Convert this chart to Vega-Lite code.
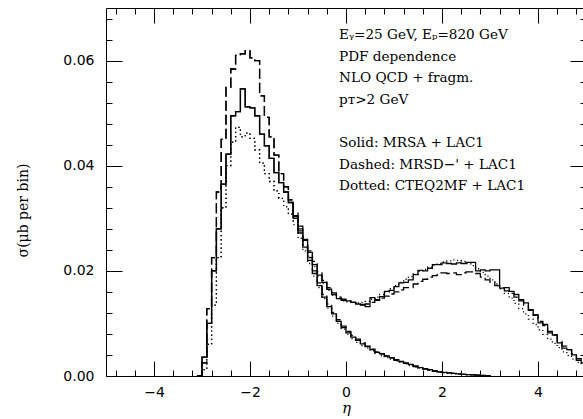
{
  "$schema": "https://vega.github.io/schema/vega-lite/v6.json",
  "width": 477,
  "height": 368,
  "autosize": {"type": "none"},
  "padding": {"left": 106, "top": 8, "right": 0, "bottom": 43},
  "background": "white",
  "config": {
    "view": {"stroke": null},
    "axis": {"grid": false, "domainColor": "black", "tickColor": "black", "labelColor": "black", "titleColor": "black", "domainWidth": 1, "tickWidth": 1, "labelFont": "DejaVu Sans", "labelFontSize": 14, "titleFont": "DejaVu Serif", "titleFontWeight": "normal"}
  },
  "datasets": {
    "h": [
      {"eta": -3.1, "sA": 0, "sB": 0, "dA": 0, "dB": 0, "tA": 0, "tB": 0},
      {"eta": -3.0, "sA": 0.0036, "sB": 0.0036, "dA": 0.0025, "dB": 0.0025, "tA": 0.0012, "tB": 0.0012},
      {"eta": -2.9, "sA": 0.0100, "sB": 0.0100, "dA": 0.0128, "dB": 0.0128, "tA": 0.0060, "tB": 0.0060},
      {"eta": -2.8, "sA": 0.0200, "sB": 0.0200, "dA": 0.0225, "dB": 0.0225, "tA": 0.0135, "tB": 0.0135},
      {"eta": -2.7, "sA": 0.0280, "sB": 0.0280, "dA": 0.0350, "dB": 0.0350, "tA": 0.0225, "tB": 0.0225},
      {"eta": -2.6, "sA": 0.0365, "sB": 0.0365, "dA": 0.0450, "dB": 0.0450, "tA": 0.0320, "tB": 0.0320},
      {"eta": -2.5, "sA": 0.0422, "sB": 0.0422, "dA": 0.0549, "dB": 0.0549, "tA": 0.0400, "tB": 0.0400},
      {"eta": -2.4, "sA": 0.0495, "sB": 0.0495, "dA": 0.0584, "dB": 0.0584, "tA": 0.0445, "tB": 0.0445},
      {"eta": -2.3, "sA": 0.0503, "sB": 0.0503, "dA": 0.0610, "dB": 0.0610, "tA": 0.0473, "tB": 0.0473},
      {"eta": -2.2, "sA": 0.0546, "sB": 0.0546, "dA": 0.0613, "dB": 0.0613, "tA": 0.0455, "tB": 0.0455},
      {"eta": -2.1, "sA": 0.0512, "sB": 0.0512, "dA": 0.0619, "dB": 0.0619, "tA": 0.0462, "tB": 0.0462},
      {"eta": -2.0, "sA": 0.0510, "sB": 0.0510, "dA": 0.0605, "dB": 0.0605, "tA": 0.0452, "tB": 0.0452},
      {"eta": -1.9, "sA": 0.0495, "sB": 0.0495, "dA": 0.0600, "dB": 0.0600, "tA": 0.0430, "tB": 0.0430},
      {"eta": -1.8, "sA": 0.0460, "sB": 0.0460, "dA": 0.0533, "dB": 0.0533, "tA": 0.0405, "tB": 0.0405},
      {"eta": -1.7, "sA": 0.0438, "sB": 0.0438, "dA": 0.0492, "dB": 0.0492, "tA": 0.0385, "tB": 0.0385},
      {"eta": -1.6, "sA": 0.0414, "sB": 0.0414, "dA": 0.0455, "dB": 0.0455, "tA": 0.0370, "tB": 0.0370},
      {"eta": -1.5, "sA": 0.0387, "sB": 0.0387, "dA": 0.0420, "dB": 0.0420, "tA": 0.0352, "tB": 0.0352},
      {"eta": -1.4, "sA": 0.0368, "sB": 0.0368, "dA": 0.0385, "dB": 0.0385, "tA": 0.0338, "tB": 0.0338},
      {"eta": -1.3, "sA": 0.0350, "sB": 0.0350, "dA": 0.0360, "dB": 0.0360, "tA": 0.0322, "tB": 0.0322},
      {"eta": -1.2, "sA": 0.0330, "sB": 0.0330, "dA": 0.0335, "dB": 0.0335, "tA": 0.0308, "tB": 0.0308},
      {"eta": -1.1, "sA": 0.0300, "sB": 0.0305, "dA": 0.0303, "dB": 0.0310, "tA": 0.0288, "tB": 0.0295},
      {"eta": -1.0, "sA": 0.0272, "sB": 0.0280, "dA": 0.0276, "dB": 0.0285, "tA": 0.0262, "tB": 0.0272},
      {"eta": -0.9, "sA": 0.0245, "sB": 0.0258, "dA": 0.0250, "dB": 0.0260, "tA": 0.0238, "tB": 0.0250},
      {"eta": -0.8, "sA": 0.0220, "sB": 0.0235, "dA": 0.0225, "dB": 0.0238, "tA": 0.0214, "tB": 0.0228},
      {"eta": -0.7, "sA": 0.0195, "sB": 0.0212, "dA": 0.0200, "dB": 0.0218, "tA": 0.0190, "tB": 0.0208},
      {"eta": -0.6, "sA": 0.0172, "sB": 0.0192, "dA": 0.0177, "dB": 0.0198, "tA": 0.0168, "tB": 0.0190},
      {"eta": -0.5, "sA": 0.0150, "sB": 0.0178, "dA": 0.0155, "dB": 0.0182, "tA": 0.0147, "tB": 0.0176},
      {"eta": -0.4, "sA": 0.0132, "sB": 0.0165, "dA": 0.0137, "dB": 0.0168, "tA": 0.0129, "tB": 0.0163},
      {"eta": -0.3, "sA": 0.0118, "sB": 0.0155, "dA": 0.0121, "dB": 0.0158, "tA": 0.0114, "tB": 0.0154},
      {"eta": -0.2, "sA": 0.0104, "sB": 0.0147, "dA": 0.0107, "dB": 0.0150, "tA": 0.0100, "tB": 0.0147},
      {"eta": -0.1, "sA": 0.0092, "sB": 0.0144, "dA": 0.0095, "dB": 0.0146, "tA": 0.0089, "tB": 0.0143},
      {"eta": 0.0, "sA": 0.0082, "sB": 0.0143, "dA": 0.0085, "dB": 0.0143, "tA": 0.0079, "tB": 0.0141},
      {"eta": 0.1, "sA": 0.0074, "sB": 0.0140, "dA": 0.0077, "dB": 0.0140, "tA": 0.0071, "tB": 0.0140},
      {"eta": 0.2, "sA": 0.0068, "sB": 0.0137, "dA": 0.0070, "dB": 0.0138, "tA": 0.0064, "tB": 0.0139},
      {"eta": 0.3, "sA": 0.0061, "sB": 0.0135, "dA": 0.0063, "dB": 0.0136, "tA": 0.0058, "tB": 0.0140},
      {"eta": 0.4, "sA": 0.0056, "sB": 0.0132, "dA": 0.0057, "dB": 0.0137, "tA": 0.0053, "tB": 0.0142},
      {"eta": 0.5, "sA": 0.0050, "sB": 0.0149, "dA": 0.0051, "dB": 0.0140, "tA": 0.0048, "tB": 0.0146},
      {"eta": 0.6, "sA": 0.0045, "sB": 0.0145, "dA": 0.0046, "dB": 0.0144, "tA": 0.0043, "tB": 0.0150},
      {"eta": 0.7, "sA": 0.0042, "sB": 0.0151, "dA": 0.0042, "dB": 0.0148, "tA": 0.0039, "tB": 0.0155},
      {"eta": 0.8, "sA": 0.0038, "sB": 0.0161, "dA": 0.0038, "dB": 0.0152, "tA": 0.0035, "tB": 0.0160},
      {"eta": 0.9, "sA": 0.0035, "sB": 0.0163, "dA": 0.0034, "dB": 0.0156, "tA": 0.0032, "tB": 0.0166},
      {"eta": 1.0, "sA": 0.0031, "sB": 0.0170, "dA": 0.0030, "dB": 0.0160, "tA": 0.0029, "tB": 0.0172},
      {"eta": 1.1, "sA": 0.0028, "sB": 0.0177, "dA": 0.0027, "dB": 0.0164, "tA": 0.0026, "tB": 0.0178},
      {"eta": 1.2, "sA": 0.0025, "sB": 0.0178, "dA": 0.0024, "dB": 0.0168, "tA": 0.0023, "tB": 0.0184},
      {"eta": 1.3, "sA": 0.0022, "sB": 0.0183, "dA": 0.0021, "dB": 0.0168, "tA": 0.0020, "tB": 0.0189},
      {"eta": 1.4, "sA": 0.0019, "sB": 0.0193, "dA": 0.0018, "dB": 0.0175, "tA": 0.0017, "tB": 0.0194},
      {"eta": 1.5, "sA": 0.0016, "sB": 0.0201, "dA": 0.0015, "dB": 0.0180, "tA": 0.0015, "tB": 0.0199},
      {"eta": 1.6, "sA": 0.0014, "sB": 0.0200, "dA": 0.0013, "dB": 0.0184, "tA": 0.0013, "tB": 0.0203},
      {"eta": 1.7, "sA": 0.0012, "sB": 0.0205, "dA": 0.0011, "dB": 0.0188, "tA": 0.0011, "tB": 0.0207},
      {"eta": 1.8, "sA": 0.0010, "sB": 0.0212, "dA": 0.0009, "dB": 0.0191, "tA": 0.0009, "tB": 0.0211},
      {"eta": 1.9, "sA": 0.0008, "sB": 0.0212, "dA": 0.0008, "dB": 0.0196, "tA": 0.0008, "tB": 0.0214},
      {"eta": 2.0, "sA": 0.0007, "sB": 0.0215, "dA": 0.0007, "dB": 0.0196, "tA": 0.0006, "tB": 0.0217},
      {"eta": 2.1, "sA": 0.0006, "sB": 0.0214, "dA": 0.0006, "dB": 0.0195, "tA": 0.0005, "tB": 0.0219},
      {"eta": 2.2, "sA": 0.0005, "sB": 0.0213, "dA": 0.0005, "dB": 0.0196, "tA": 0.0004, "tB": 0.0221},
      {"eta": 2.3, "sA": 0.0004, "sB": 0.0215, "dA": 0.0004, "dB": 0.0193, "tA": 0.0003, "tB": 0.0220},
      {"eta": 2.4, "sA": 0.0003, "sB": 0.0214, "dA": 0.0003, "dB": 0.0196, "tA": 0.0003, "tB": 0.0218},
      {"eta": 2.5, "sA": 0.00025, "sB": 0.0216, "dA": 0.00025, "dB": 0.0198, "tA": 0.0002, "tB": 0.0214},
      {"eta": 2.6, "sA": 0.0002, "sB": 0.0216, "dA": 0.0002, "dB": 0.0198, "tA": 0.00015, "tB": 0.0210},
      {"eta": 2.7, "sA": 0.00015, "sB": 0.0200, "dA": 0.00015, "dB": 0.0195, "tA": 0.0001, "tB": 0.0204},
      {"eta": 2.8, "sA": 0.0001, "sB": 0.0202, "dA": 0.0001, "dB": 0.0188, "tA": 0.0001, "tB": 0.0197},
      {"eta": 2.9, "sA": 0.00005, "sB": 0.0200, "dA": 0.00005, "dB": 0.0183, "tA": 0.00005, "tB": 0.0190},
      {"eta": 3.0, "sA": 0, "sB": 0.0202, "dA": 0, "dB": 0.0178, "tA": 0, "tB": 0.0183},
      {"eta": 3.1, "sB": 0.0202, "dB": 0.0172, "tB": 0.0175},
      {"eta": 3.2, "sB": 0.0167, "dB": 0.0168, "tB": 0.0166},
      {"eta": 3.3, "sB": 0.0168, "dB": 0.0162, "tB": 0.0157},
      {"eta": 3.4, "sB": 0.0161, "dB": 0.0157, "tB": 0.0148},
      {"eta": 3.5, "sB": 0.0155, "dB": 0.0150, "tB": 0.0138},
      {"eta": 3.6, "sB": 0.0145, "dB": 0.0143, "tB": 0.0128},
      {"eta": 3.7, "sB": 0.0139, "dB": 0.0135, "tB": 0.0118},
      {"eta": 3.8, "sB": 0.0126, "dB": 0.0125, "tB": 0.0108},
      {"eta": 3.9, "sB": 0.0116, "dB": 0.0116, "tB": 0.0098},
      {"eta": 4.0, "sB": 0.0101, "dB": 0.0104, "tB": 0.0088},
      {"eta": 4.1, "sB": 0.0098, "dB": 0.0096, "tB": 0.0079},
      {"eta": 4.2, "sB": 0.0082, "dB": 0.0085, "tB": 0.0070},
      {"eta": 4.3, "sB": 0.0078, "dB": 0.0078, "tB": 0.0062},
      {"eta": 4.4, "sB": 0.0063, "dB": 0.0066, "tB": 0.0054},
      {"eta": 4.5, "sB": 0.0053, "dB": 0.0057, "tB": 0.0046},
      {"eta": 4.6, "sB": 0.0050, "dB": 0.0050, "tB": 0.0039},
      {"eta": 4.7, "sB": 0.0040, "dB": 0.0042, "tB": 0.0032},
      {"eta": 4.8, "sB": 0.0030, "dB": 0.0033, "tB": 0.0026},
      {"eta": 4.9, "sB": 0.0025, "dB": 0.0027, "tB": 0.0021},
      {"eta": 5.0, "sB": 0.0025, "dB": 0.0027, "tB": 0.0021}
    ]
  },
  "data": {"name": "h"},
  "transform": [
    {"fold": ["sA", "sB", "dA", "dB", "tA", "tB"], "as": ["series", "value"]},
    {"filter": "isValid(datum.value)"}
  ],
  "resolve": {"axis": {"x": "independent", "y": "independent"}},
  "layer": [
    {
      "mark": {"type": "line", "interpolate": "step-after", "strokeWidth": 1.3, "color": "black", "clip": false},
      "encoding": {
        "x": {"field": "eta", "type": "quantitative", "scale": {"domain": [-5, 4.9375], "nice": false, "zero": false},
          "axis": {"orient": "bottom", "values": [-4, -2, 0, 2, 4], "tickSize": -15, "labelPadding": 24, "labelFlush": false, "labelBaseline": "top", "title": "η", "titleFontSize": 15, "titleFontStyle": "italic", "titleX": 240, "titleY": 36, "titleBaseline": "alphabetic", "titleAlign": "center"}},
        "y": {"field": "value", "type": "quantitative", "scale": {"domain": [0, 0.07], "nice": false, "zero": false},
          "axis": {"orient": "left", "values": [0, 0.02, 0.04, 0.06], "format": ".2f", "tickSize": -16, "labelPadding": 28, "labelFlush": false, "title": "σ(μb per bin)", "titleFontSize": 14, "titleAngle": -90, "titleX": -79, "titleY": 202, "titleAlign": "center", "titleBaseline": "alphabetic"}},
        "detail": {"field": "series"},
        "strokeDash": {"field": "series", "type": "nominal", "legend": null,
          "scale": {"domain": ["sA", "sB", "dA", "dB", "tA", "tB"], "range": [[1, 0], [1, 0], [10, 4], [10, 4], [1.2, 3], [1.2, 3]]}}
      }
    },
    {
      "mark": {"type": "point", "opacity": 0},
      "encoding": {
        "x": {"field": "eta", "type": "quantitative",
          "axis": {"orient": "bottom", "values": [-4.8, -4.4, -3.6, -3.2, -2.8, -2.4, -1.6, -1.2, -0.8, -0.4, 0.4, 0.8, 1.2, 1.6, 2.4, 2.8, 3.2, 3.6, 4.4, 4.8], "tickSize": -6, "labels": false, "domain": false, "title": null}},
        "y": {"field": "value", "type": "quantitative",
          "axis": {"orient": "left", "values": [0.004, 0.008, 0.012, 0.016, 0.024, 0.028, 0.032, 0.036, 0.044, 0.048, 0.052, 0.056, 0.064, 0.068], "tickSize": -6, "labels": false, "domain": false, "title": null}}
      }
    },
    {
      "mark": {"type": "point", "opacity": 0},
      "encoding": {
        "x": {"field": "eta", "type": "quantitative",
          "axis": {"orient": "top", "values": [-4, -2, 0, 2, 4], "tickSize": -15, "labels": false, "domain": true, "title": null}},
        "y": {"field": "value", "type": "quantitative",
          "axis": {"orient": "right", "values": [0, 0.02, 0.04, 0.06], "tickSize": -16, "labels": false, "domain": false, "title": null, "offset": 3}}
      }
    },
    {
      "mark": {"type": "point", "opacity": 0},
      "encoding": {
        "x": {"field": "eta", "type": "quantitative",
          "axis": {"orient": "top", "values": [-4.8, -4.4, -3.6, -3.2, -2.8, -2.4, -1.6, -1.2, -0.8, -0.4, 0.4, 0.8, 1.2, 1.6, 2.4, 2.8, 3.2, 3.6, 4.4, 4.8], "tickSize": -6, "labels": false, "domain": false, "title": null}},
        "y": {"field": "value", "type": "quantitative",
          "axis": {"orient": "right", "values": [0.004, 0.008, 0.012, 0.016, 0.024, 0.028, 0.032, 0.036, 0.044, 0.048, 0.052, 0.056, 0.064, 0.068], "tickSize": -6, "labels": false, "domain": false, "title": null, "offset": 3}}
      }
    },
    {
      "data": {"values": [{}]},
      "mark": {"type": "text", "align": "left", "baseline": "alphabetic", "font": "DejaVu Serif", "fontSize": 13.6, "lineHeight": 21.6, "color": "black"},
      "encoding": {
        "x": {"datum": -0.146, "type": "quantitative", "axis": null},
        "y": {"datum": 0.0641, "type": "quantitative", "axis": null},
        "text": {"value": ["Eᵧ=25 GeV, Eₚ=820 GeV", "PDF dependence", "NLO QCD + fragm.", "pᴛ>2 GeV"]}
      }
    },
    {
      "data": {"values": [{}]},
      "mark": {"type": "text", "align": "left", "baseline": "alphabetic", "font": "DejaVu Serif", "fontSize": 13.6, "lineHeight": 21.6, "color": "black"},
      "encoding": {
        "x": {"datum": -0.146, "type": "quantitative", "axis": null},
        "y": {"datum": 0.04356, "type": "quantitative", "axis": null},
        "text": {"value": ["Solid: MRSA + LAC1", "Dashed: MRSD−' + LAC1", "Dotted: CTEQ2MF + LAC1"]}
      }
    }
  ]
}
